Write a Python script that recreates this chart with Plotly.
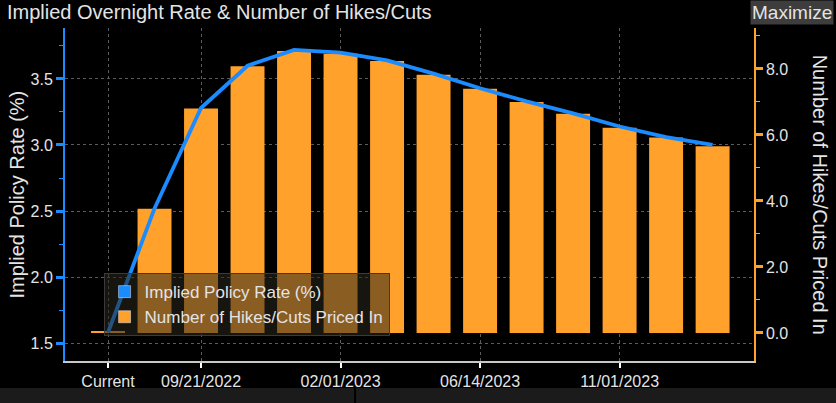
import plotly.graph_objects as go

# meeting dates (categories) and values
meetings = ["Current", "07/27/2022", "09/21/2022", "11/02/2022", "12/14/2022",
            "02/01/2023", "03/22/2023", "05/03/2023", "06/14/2023", "07/26/2023",
            "09/20/2023", "11/01/2023", "12/13/2023", "01/31/2024"]
hikes = [0.05, 3.76, 6.80, 8.08, 8.54, 8.46, 8.24, 7.82, 7.40, 7.00, 6.64, 6.22, 5.92, 5.66]
rate = [1.58, 2.52, 3.28, 3.60, 3.72, 3.70, 3.64, 3.54, 3.43, 3.33, 3.24, 3.14, 3.06, 3.00]
tick_dates = ["Current", "09/21/2022", "02/01/2023", "06/14/2023", "11/01/2023"]

BLUE = "#1a8cff"
ORANGE = "#ffa12b"
TXT = "#e4e4e4"
FONT = "Liberation Sans, Arial, sans-serif"

fig = go.Figure()

# bars on the right-hand axis
fig.add_trace(go.Bar(
    x=meetings, y=hikes, yaxis="y",
    marker=dict(color=ORANGE, line=dict(width=0)),
    name="Number of Hikes/Cuts Priced In", showlegend=False,
))
# line on the left-hand axis (overlay, so it sits above the bars)
fig.add_trace(go.Scatter(
    x=meetings, y=rate, yaxis="y2", mode="lines",
    line=dict(color=BLUE, width=3.8),
    name="Implied Policy Rate (%)", showlegend=False,
))
# legend swatches only (square icons like the original)
fig.add_trace(go.Bar(x=[None], y=[None], marker_color=BLUE,
                     name="Implied Policy Rate (%)"))
fig.add_trace(go.Bar(x=[None], y=[None], marker_color=ORANGE,
                     name="Number of Hikes/Cuts Priced In"))

fig.update_layout(
    width=836, height=403,
    margin=dict(l=65, r=82, t=28, b=42),
    paper_bgcolor="black", plot_bgcolor="black",
    font=dict(family=FONT, color=TXT, size=16),
    barmode="overlay", bargap=0.27,
    xaxis=dict(
        type="category", range=[-0.925, 13.89],
        tickmode="array", tickvals=tick_dates,
        showline=True, linecolor="#c8c8c8", linewidth=2,
        ticks="outside", tickcolor="#ffffff", ticklen=5, tickwidth=2,
        showgrid=True, gridcolor="#5c5c5c", griddash="dot", gridwidth=1,
        tickfont=dict(size=16, color=TXT),
    ),
    yaxis=dict(
        side="right", range=[-0.85, 9.24],
        tickvals=[0, 2, 4, 6, 8], tickformat=".1f",
        showline=True, linecolor=ORANGE, linewidth=1.5,
        ticks="outside", tickcolor=ORANGE, ticklen=7, tickwidth=3,
        minor=dict(dtick=1, ticks="outside", ticklen=4, tickcolor=ORANGE, tickwidth=1),
        showgrid=False, zeroline=False,
        tickfont=dict(size=16, color=TXT),
    ),
    yaxis2=dict(
        overlaying="y", side="left", range=[1.364, 3.886],
        tickvals=[1.5, 2.0, 2.5, 3.0, 3.5], tickformat=".1f",
        showline=True, linecolor=BLUE, linewidth=2,
        ticks="outside", tickcolor=BLUE, ticklen=7, tickwidth=3,
        minor=dict(dtick=0.25, ticks="outside", ticklen=4, tickcolor=BLUE, tickwidth=1),
        showgrid=True, gridcolor="#5c5c5c", griddash="dot", gridwidth=1,
        zeroline=False,
        tickfont=dict(size=16, color=TXT),
    ),
    legend=dict(
        x=0.056, y=0.264, xanchor="left", yanchor="top",
        bgcolor="rgba(42,38,30,0.55)", bordercolor="#3a3a3a", borderwidth=1,
        font=dict(size=17, color=TXT), traceorder="normal",
        tracegroupgap=0, itemwidth=30,
    ),
    shapes=[
        dict(type="rect", xref="paper", yref="paper", x0=-0.2, x1=1.2,
             y0=-0.13, y1=-0.081, fillcolor="#1b1b1b", line=dict(width=0), layer="below"),
        dict(type="line", xref="paper", yref="paper", x0=0.421, x1=0.421,
             y0=-0.13, y1=-0.081, line=dict(color="#000000", width=2)),
    ],
    annotations=[
        dict(text="Implied Overnight Rate & Number of Hikes/Cuts", xref="paper", yref="paper",
             x=-0.087, y=1.048, xanchor="left", yanchor="middle", showarrow=False,
             font=dict(size=20, color=TXT)),
        dict(text="Maximize", xref="paper", yref="paper",
             x=1.116, y=1.046, xanchor="right", yanchor="middle", showarrow=False,
             bgcolor="#3d3d3d", borderpad=1, font=dict(size=19, color=TXT)),
        dict(text="Implied Policy Rate (%)", xref="paper", yref="paper",
             x=-0.071, y=0.5, xanchor="center", yanchor="middle", showarrow=False,
             textangle=-90, font=dict(size=20, color=TXT)),
        dict(text="Number of Hikes/Cuts Priced In", xref="paper", yref="paper",
             x=1.097, y=0.5, xanchor="center", yanchor="middle", showarrow=False,
             textangle=90, font=dict(size=20, color=TXT)),
    ],
)

# drop the page's default body margin so the figure sits at the window's corner
fig.write_html("out.html", config={"displayModeBar": False},
               post_script="document.body.style.margin='0';document.body.style.background='black';")
